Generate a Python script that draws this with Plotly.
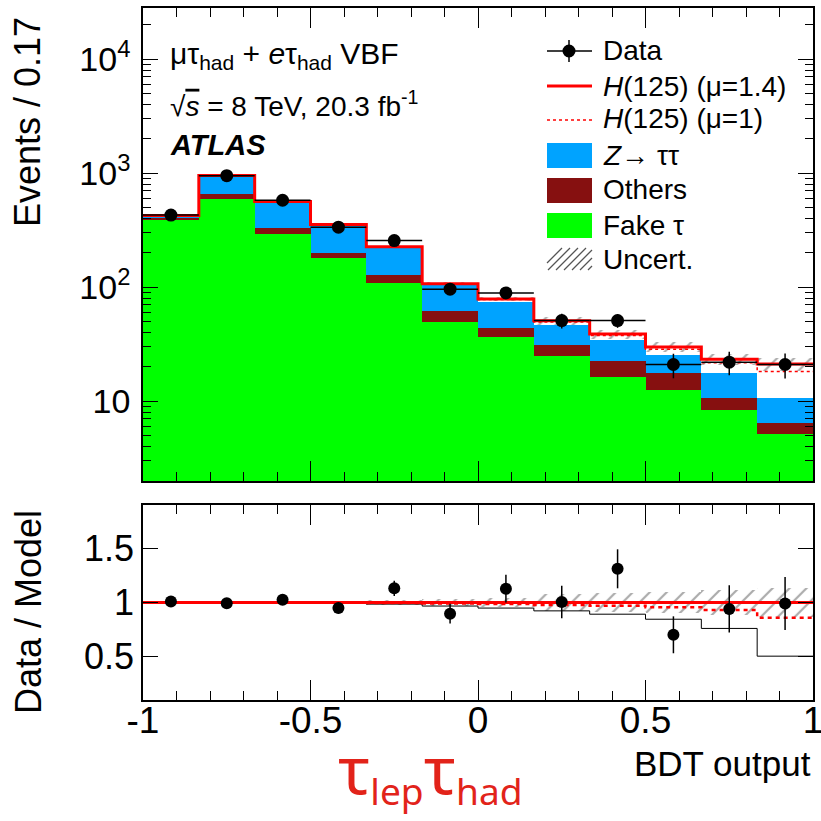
import numpy as np
import plotly.graph_objects as go

# ---------------- data ----------------
bin_edges = np.linspace(-1.0, 1.0, 13)
fake_tau = [392, 588, 295, 181, 109, 50, 36.6, 25, 16.3, 12.5, 8.4, 5.2]
others = [10, 62, 32, 19, 19, 12, 7.4, 6, 6.2, 5.2, 2.2, 1.3]
z_tautau = [23, 304, 236, 152, 95, 41.5, 30.9, 15.8, 12.2, 7.6, 7.2, 4.2]
higgs_mu1 = [0.2, 0.5, 0.8, 1.5, 2.4, 2.5, 2.9, 2.8, 3.0, 3.3, 4.0, 7.5]
data_counts = [429, 949, 578, 336, 256, 96, 89, 51, 51, 21, 22, 21]
data_err = [21, 31, 24, 18, 16, 9.8, 10.1, 7.6, 7.0, 5.1, 5.1, 5.2]
unc_rel = [0.01, 0.01, 0.012, 0.015, 0.02, 0.03, 0.046, 0.077, 0.09, 0.10, 0.115, 0.13]
mu_fit = 1.4
x_tick_vals = [-1, -0.5, 0, 0.5, 1]
x_tick_text = ["-1", "-0.5", "0", "0.5", "1"]

# ---------------- derived ----------------
edges = np.asarray(bin_edges)
centers = 0.5 * (edges[:-1] + edges[1:])
bw = edges[1] - edges[0]
fake = np.array(fake_tau)
oth = np.array(others)
ztt = np.array(z_tautau)
sig = np.array(higgs_mu1)
dat = np.array(data_counts, dtype=float)
derr = np.array(data_err, dtype=float)
unc = np.array(unc_rel)
bkg = fake + oth + ztt
model = bkg + mu_fit * sig
model_mu1 = bkg + sig


def step(vals):
    v = list(vals)
    return list(edges), v + [v[-1]]


W, H = 821, 821
ML, MR, MT, MB = 143, 8, 8, 121
PW, PH = W - ML - MR, H - MT - MB


def px(x):
    return (x - ML) / PW


def py(y):
    return (H - MB - y) / PH


GREEN = "#00ff00"
BROWN = "#861010"
BLUE = "#00a3ff"
RED = "#ff0000"
HATCH = "#555555"
FONT = "Liberation Sans, Arial, Helvetica, sans-serif"

hatch_pat = dict(shape="/", fgcolor=HATCH, bgcolor="rgba(0,0,0,0)", fillmode="overlay", size=12, solidity=0.18)

fig = go.Figure()

# ---- top panel stack ----
fig.add_trace(go.Bar(x=centers, y=fake, width=bw, marker=dict(color=GREEN, line=dict(width=0)),
                     xaxis="x", yaxis="y", name="Fake τ"))
fig.add_trace(go.Bar(x=centers, y=oth, base=fake, width=bw, marker=dict(color=BROWN, line=dict(width=0)),
                     xaxis="x", yaxis="y", name="Others"))
fig.add_trace(go.Bar(x=centers, y=ztt, base=fake + oth, width=bw, marker=dict(color=BLUE, line=dict(width=0)),
                     xaxis="x", yaxis="y", name="Z→ττ"))
fig.add_trace(go.Bar(x=centers, y=2 * model * unc, base=model * (1 - unc), width=bw,
                     marker=dict(color="rgba(0,0,0,0)", line=dict(width=0), pattern=hatch_pat),
                     xaxis="x", yaxis="y", name="Uncert."))
sx, sy = step(model_mu1)
fig.add_trace(go.Scatter(x=sx, y=sy, mode="lines", line=dict(color=RED, width=1.5, dash="3px,3px", shape="hv"),
                         xaxis="x", yaxis="y", name="H(125) (μ=1)"))
sx, sy = step(model)
fig.add_trace(go.Scatter(x=sx, y=sy, mode="lines", line=dict(color=RED, width=3, shape="hv"),
                         xaxis="x", yaxis="y", name="H(125) (μ=1.4)"))
fig.add_trace(go.Scatter(x=centers, y=dat, mode="markers",
                         marker=dict(color="black", size=13, symbol="circle"),
                         error_y=dict(type="data", array=derr, color="black", thickness=1.5, width=0),
                         error_x=dict(type="constant", value=bw / 2, color="black", thickness=1.5, width=0),
                         xaxis="x", yaxis="y", name="Data"))

# ---- ratio panel ----
fig.add_trace(go.Bar(x=centers, y=2 * unc, base=1 - unc, width=bw,
                     marker=dict(color="rgba(0,0,0,0)", line=dict(width=0), pattern=hatch_pat),
                     xaxis="x2", yaxis="y2", showlegend=False))
sx, sy = step(bkg / model)
fig.add_trace(go.Scatter(x=sx, y=sy, mode="lines", line=dict(color="black", width=1, shape="hv"),
                         xaxis="x2", yaxis="y2", showlegend=False))
sx, sy = step(model_mu1 / model)
fig.add_trace(go.Scatter(x=sx, y=sy, mode="lines", line=dict(color=RED, width=2.5, dash="4px,4px", shape="hv"),
                         xaxis="x2", yaxis="y2", showlegend=False))
sx, sy = step(model / model)
fig.add_trace(go.Scatter(x=sx, y=sy, mode="lines", line=dict(color=RED, width=3, shape="hv"),
                         xaxis="x2", yaxis="y2", showlegend=False))
fig.add_trace(go.Scatter(x=centers, y=dat / model, mode="markers",
                         marker=dict(color="black", size=12),
                         error_y=dict(type="data", array=derr / model, color="black", thickness=1.5, width=0),
                         xaxis="x2", yaxis="y2", showlegend=False))

# ---- axes ----
top_lo, top_hi = np.log10(2.0), np.log10(2.8e4)
minor_log = [m * 10 ** d for d in range(0, 5) for m in range(2, 10) if 2.0 <= m * 10 ** d <= 2.8e4]
xcommon = dict(range=[-1, 1], showline=True, linecolor="black", linewidth=1.5, mirror="allticks",
               ticks="inside", ticklen=20, tickwidth=1.2, tickcolor="black", automargin=False,
               tickmode="array", tickvals=x_tick_vals, ticktext=x_tick_text,
               minor=dict(dtick=0.1, tick0=-1, ticks="inside", ticklen=9, tickwidth=1.2, tickcolor="black"),
               showgrid=False, zeroline=False)

fig.update_layout(
    width=W, height=H, margin=dict(l=ML, r=MR, t=MT, b=MB, autoexpand=False),
    paper_bgcolor="white", plot_bgcolor="white",
    barmode="overlay", bargap=0, showlegend=False,
    font=dict(family=FONT, color="black"),
    xaxis=dict(**xcommon, anchor="y", showticklabels=False),
    xaxis2=dict(**xcommon, anchor="y2", matches="x", showticklabels=True,
                tickfont=dict(family=FONT, size=37), ticklabelstandoff=-13, ticklabeloverflow="allow"),
    yaxis=dict(type="log", domain=[1 - 473 / PH, 1], range=[top_lo, top_hi], anchor="x", automargin=False,
               showline=True, linecolor="black", linewidth=1.5, mirror="allticks",
               ticks="inside", ticklen=15, tickwidth=1.2, tickcolor="black",
               tickvals=[10, 100, 1000, 10000],
               ticktext=["10", "10<sup>2</sup>", "10<sup>3</sup>", "10<sup>4</sup>"],
               tickfont=dict(size=34), ticklabelstandoff=4,
               minor=dict(tickmode="array", tickvals=minor_log, ticks="inside", ticklen=8,
                          tickwidth=1.2, tickcolor="black"),
               showgrid=False, zeroline=False),
    yaxis2=dict(domain=[0, 195 / PH], range=[0.1, 1.9], anchor="x2", automargin=False,
                showline=True, linecolor="black", linewidth=1.5, mirror="allticks",
                ticks="inside", ticklen=15, tickwidth=1.2, tickcolor="black",
                tickvals=[0.5, 1, 1.5], ticktext=["0.5", "1", "1.5"],
                tickfont=dict(size=36), ticklabelstandoff=0,
                showgrid=False, zeroline=False),
)

ann = []


def text(x, y, s, size, xanchor="left", angle=0, color="black", family=FONT):
    ann.append(dict(x=px(x), y=py(y), xref="paper", yref="paper", text=s, showarrow=False,
                    xanchor=xanchor, yanchor="middle", textangle=angle,
                    font=dict(size=size, color=color, family=family)))


text(168, 56, "μτ<sub>had</sub> + <i>e</i>τ<sub>had</sub> VBF", 30)
text(168, 104, "√<span style='text-decoration:overline'><i>s</i></span> = 8 TeV, 20.3 fb<sup>-1</sup>", 28)
text(168, 145, "<b><i>ATLAS</i></b>", 29)

leg_y = [51, 86, 119, 155, 190, 225, 259]
leg_t = ["Data", "<i>H</i>(125) (μ=1.4)", "<i>H</i>(125) (μ=1)", "<i>Z</i>→ ττ", "Others", "Fake τ", "Uncert."]
for yy, tt in zip(leg_y, leg_t):
    text(601, yy, tt, 28)

text(28, 122, "Events / 0.17", 36, xanchor="center", angle=-90)
text(28, 612, "Data / Model", 36, xanchor="center", angle=-90)
text(813, 763, "BDT output", 35, xanchor="right")
text(430, 769, "<span style='font-size:66px'>τ</span><sub>lep</sub><span style='font-size:66px'>τ</span><sub>had</sub>",
     53, xanchor="center", color="#e2231a", family="Noto Sans, DejaVu Sans, sans-serif")

shapes = []


def pline(x0, y0, x1, y1, color="black", width=1.5, dash="solid"):
    shapes.append(dict(type="line", xref="paper", yref="paper", x0=px(x0), y0=py(y0), x1=px(x1), y1=py(y1),
                       line=dict(color=color, width=width, dash=dash)))


def prect(x0, y0, x1, y1, color):
    shapes.append(dict(type="rect", xref="paper", yref="paper", x0=px(x0), y0=py(y0), x1=px(x1), y1=py(y1),
                       fillcolor=color, line=dict(width=0)))


pline(547, 51, 592, 51)
pline(569, 40, 569, 62)
shapes.append(dict(type="circle", xref="paper", yref="paper", x0=px(562.5), x1=px(575.5), y0=py(57.5),
                   y1=py(44.5), fillcolor="black", line=dict(width=0)))
pline(547, 86, 592, 86, RED, 3)
pline(547, 120, 592, 120, RED, 1.5, "3px,3px")
prect(547, 143, 592, 168, BLUE)
prect(547, 178, 592, 203, BROWN)
prect(547, 213, 592, 238, GREEN)
# hatch icon: diagonal strokes clipped to the box 547..592 x 248..270
for k in range(7):
    xa = 540 + k * 8
    xb = xa + 22
    ya, yb = 270.0, 248.0
    if xa < 547:
        ya = 270 - (547 - xa)
        xa = 547
    if xb > 592:
        yb = 248 + (xb - 592)
        xb = 592
    pline(xa, ya, xb, yb, HATCH, 1.3)

fig.update_layout(annotations=ann, shapes=shapes)
fig.write_html("out.html")
